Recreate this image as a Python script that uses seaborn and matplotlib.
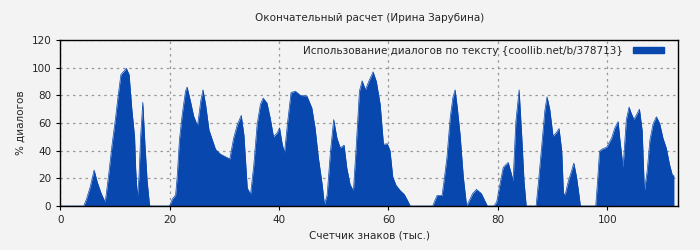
import numpy as np
import pandas as pd
import seaborn as sns
import matplotlib.pyplot as plt
from matplotlib.patches import Patch

# Счетчик знаков (тыс.) и % диалогов
x_k = [0, 4.3, 4.8, 5.5, 6.2, 6.8, 7.5, 8.2, 8.4, 8.9, 9.5, 10.1, 10.6, 11.1, 12.1, 12.6,
       13.1, 13.6, 13.8, 14.1, 14.4, 14.7, 15.1, 15.5, 15.9, 16.3, 16.4,
       20.0, 20.5, 21.1, 21.4, 21.8, 22.3, 22.9, 23.2, 23.8, 24.4, 25.1, 25.7, 26.1, 26.6,
       27.2, 27.8, 28.4, 29.3, 30.5, 31.0, 31.7, 32.4, 33.1, 33.6, 34.2, 34.8, 35.4, 36.0,
       36.6, 37.1, 37.8, 38.4, 39.0, 39.7, 40.1, 40.6, 41.0, 41.6, 42.2, 43.0, 43.9, 45.1,
       46.0, 46.6, 47.2, 47.9, 48.3, 48.8, 49.4, 50.0, 50.6, 51.2, 51.9, 52.4, 53.0, 53.6,
       54.1, 54.7, 55.2, 55.8, 56.4, 57.2, 57.8, 58.5, 59.1, 59.8, 60.3, 60.8, 61.4, 62.2,
       62.9, 63.5, 64.0,
       68.1, 68.5, 68.9, 69.8, 70.1, 70.7, 71.3, 71.8, 72.2, 72.6, 73.1, 73.7, 74.3, 74.8,
       75.4, 76.1, 77.0, 77.6, 78.1,
       79.3, 79.8, 80.4, 81.0, 81.9, 82.5, 82.8, 83.3, 83.9, 84.4, 84.8, 85.2,
       87.0, 87.4, 88.0, 88.6, 89.0, 89.5, 90.1, 90.7, 91.2, 91.7, 92.0, 92.3, 92.9, 93.5,
       93.9, 94.4, 94.9, 95.1,
       97.9, 98.2, 98.6, 99.0, 99.9, 100.8, 101.4, 102.0, 102.3, 102.9, 103.5, 104.0, 104.4,
       104.9, 105.3, 105.9, 106.4, 106.8, 107.3, 107.8, 108.4, 109.0, 109.6, 110.2, 110.8,
       111.4, 111.9, 112.2]
dialogs = [0, 0, 5, 14, 26, 17, 9, 3, 8, 24, 45, 63, 80, 95, 99.5, 95,
           70, 50, 27, 6, 21, 50, 75, 44, 18, 2, 0,
           0, 5, 8, 22, 48, 66, 83, 86, 76, 65, 58, 76, 84, 73,
           55, 48, 41, 37.5, 35, 34, 49, 59, 65.5, 51, 13, 8.4, 30, 59,
           73.5, 78, 74.5, 63.5, 50, 53, 56.5, 44.5, 38.5, 61.5, 82, 83, 80, 79.5,
           71, 56.5, 35, 15.5, 1, 8, 39, 62.5, 49, 42, 44, 27.5, 15.5, 11,
           42, 83, 90.5, 84, 90, 97, 90, 73.5, 44.6, 45, 40, 21, 15, 11,
           8.4, 4, 0,
           0, 4, 7.6, 7.6, 16, 35, 64, 78.6, 84, 71, 52, 21, 0, 4,
           9, 12, 9, 4, 0,
           0, 3, 16, 28, 31.5, 23, 18, 61, 84, 49, 18, 0,
           0, 16, 42, 69, 79, 70, 50.5, 53, 56, 39.5, 9.4, 8, 18, 25.6,
           31, 21, 6.5, 0,
           0, 16, 39.5, 41, 42.5, 49, 56.5, 61, 49, 28, 62.5, 71.5, 67,
           62.5, 65.5, 70, 54.5, 11, 25, 47.5, 59.6, 64.5, 59.6, 49, 42,
           30, 22.5, 22]

df = pd.DataFrame({"x": x_k, "y": dialogs})

sns.set_style("ticks")
plt.rcParams["font.family"] = ["DejaVu Sans"]
bg = "#f3f3f3"
blue = "#0847ae"

fig = plt.figure(figsize=(7, 2.5), dpi=100, facecolor=bg)
ax = fig.add_axes([0.086, 0.176, 0.883, 0.664])
ax.set_facecolor(bg)

sns.lineplot(data=df, x="x", y="y", ax=ax, color=blue, linewidth=0.5)
ax.fill_between(df["x"], 0, df["y"], color=blue, linewidth=0)

ax.set_xlim(0, 113)
ax.set_ylim(0, 120)
ax.set_xticks(range(0, 101, 20))
ax.set_yticks(range(0, 121, 20))
ax.grid(True, color="#999999", linestyle=(0, (2, 3)), linewidth=0.9)
ax.set_axisbelow(True)
for s in ax.spines.values():
    s.set_color("black")
    s.set_linewidth(1)
ax.tick_params(labelsize=7.5, length=3, color="black")

ax.set_title("Окончательный расчет (Ирина Зарубина)", fontsize=7.5, pad=14)
ax.set_xlabel("Счетчик знаков (тыс.)", fontsize=7.5)
ax.set_ylabel("% диалогов", fontsize=7.5)

ax.legend([Patch(color=blue)], ["Использование диалогов по тексту {coollib.net/b/378713}"],
          loc="upper right", frameon=False, fontsize=7.5, handlelength=3.0, handleheight=0.6,
          markerfirst=False, borderaxespad=0.15, handletextpad=0.9,
          bbox_to_anchor=(0.986, 1.0))

plt.savefig("out.png", dpi=100, facecolor=bg)
